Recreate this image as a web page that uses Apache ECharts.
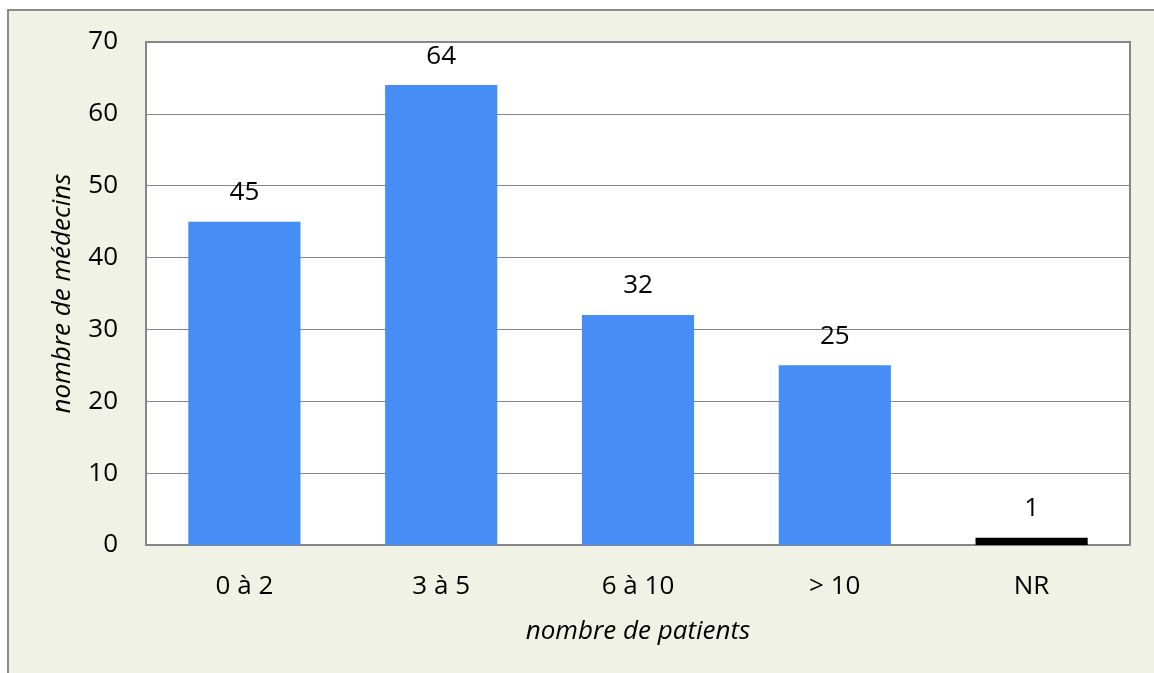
<!DOCTYPE html>
<html>
<head>
<meta charset="utf-8">
<script src="https://cdn.jsdelivr.net/npm/echarts@6/dist/echarts.min.js"></script>
<style>
  html, body { margin: 0; padding: 0; background: #ffffff; overflow: hidden; }
  #frame {
    position: absolute; left: 7px; top: 9px; width: 1147px; height: 664px;
    border-left: 2px solid #8a8a8a; border-top: 2px solid #8a8a8a;
    background: #eff2e4; overflow: hidden;
  }
  #chart { position: absolute; left: -9px; top: -11px; width: 1154px; height: 673px; }
</style>
</head>
<body>
<div id="frame"><div id="chart"></div></div>
<script>
// Nombre de médecins selon le nombre de patients suivis
const categories = ['0 à 2', '3 à 5', '6 à 10', '> 10', 'NR'];
const counts = [45, 64, 32, 25, 1];
const barColors = ['#468df5', '#468df5', '#468df5', '#468df5', '#000000'];

const chart = echarts.init(document.getElementById('chart'), null, { renderer: 'canvas' });
const font = "'Open Sans', 'DejaVu Sans', sans-serif";

chart.setOption({
  backgroundColor: 'transparent',
  animation: false,
  grid: {
    left: 146, top: 42, right: 24, bottom: 128,
    show: true, backgroundColor: '#ffffff', borderColor: '#868686', borderWidth: 2
  },
  xAxis: {
    type: 'category',
    data: categories,
    name: 'nombre de patients',
    nameLocation: 'middle',
    nameGap: 74,
    nameTextStyle: { fontFamily: font, fontStyle: 'italic', fontSize: 26, color: '#000' },
    axisLine: { lineStyle: { color: '#868686', width: 2 } },
    axisTick: { show: false },
    axisLabel: { margin: 29, fontFamily: font, fontSize: 26, color: '#000' }
  },
  yAxis: {
    type: 'value',
    min: 0, max: 70, interval: 10,
    name: 'nombre de médecins',
    nameLocation: 'middle',
    nameGap: 70,
    nameTextStyle: { fontFamily: font, fontStyle: 'italic', fontSize: 26, color: '#000' },
    axisLine: { show: true, lineStyle: { color: '#868686', width: 2 } },
    axisTick: { show: false },
    axisLabel: { margin: 28, fontFamily: font, fontSize: 26, color: '#000' },
    splitLine: { lineStyle: { color: '#868686', width: 1 } }
  },
  series: [{
    type: 'bar',
    barWidth: '57%',
    data: counts.map((v, i) => ({ value: v, itemStyle: { color: barColors[i] } })),
    label: {
      show: true, position: 'top', distance: 16,
      fontFamily: font, fontSize: 26, color: '#000'
    }
  }]
});
</script>
</body>
</html>
